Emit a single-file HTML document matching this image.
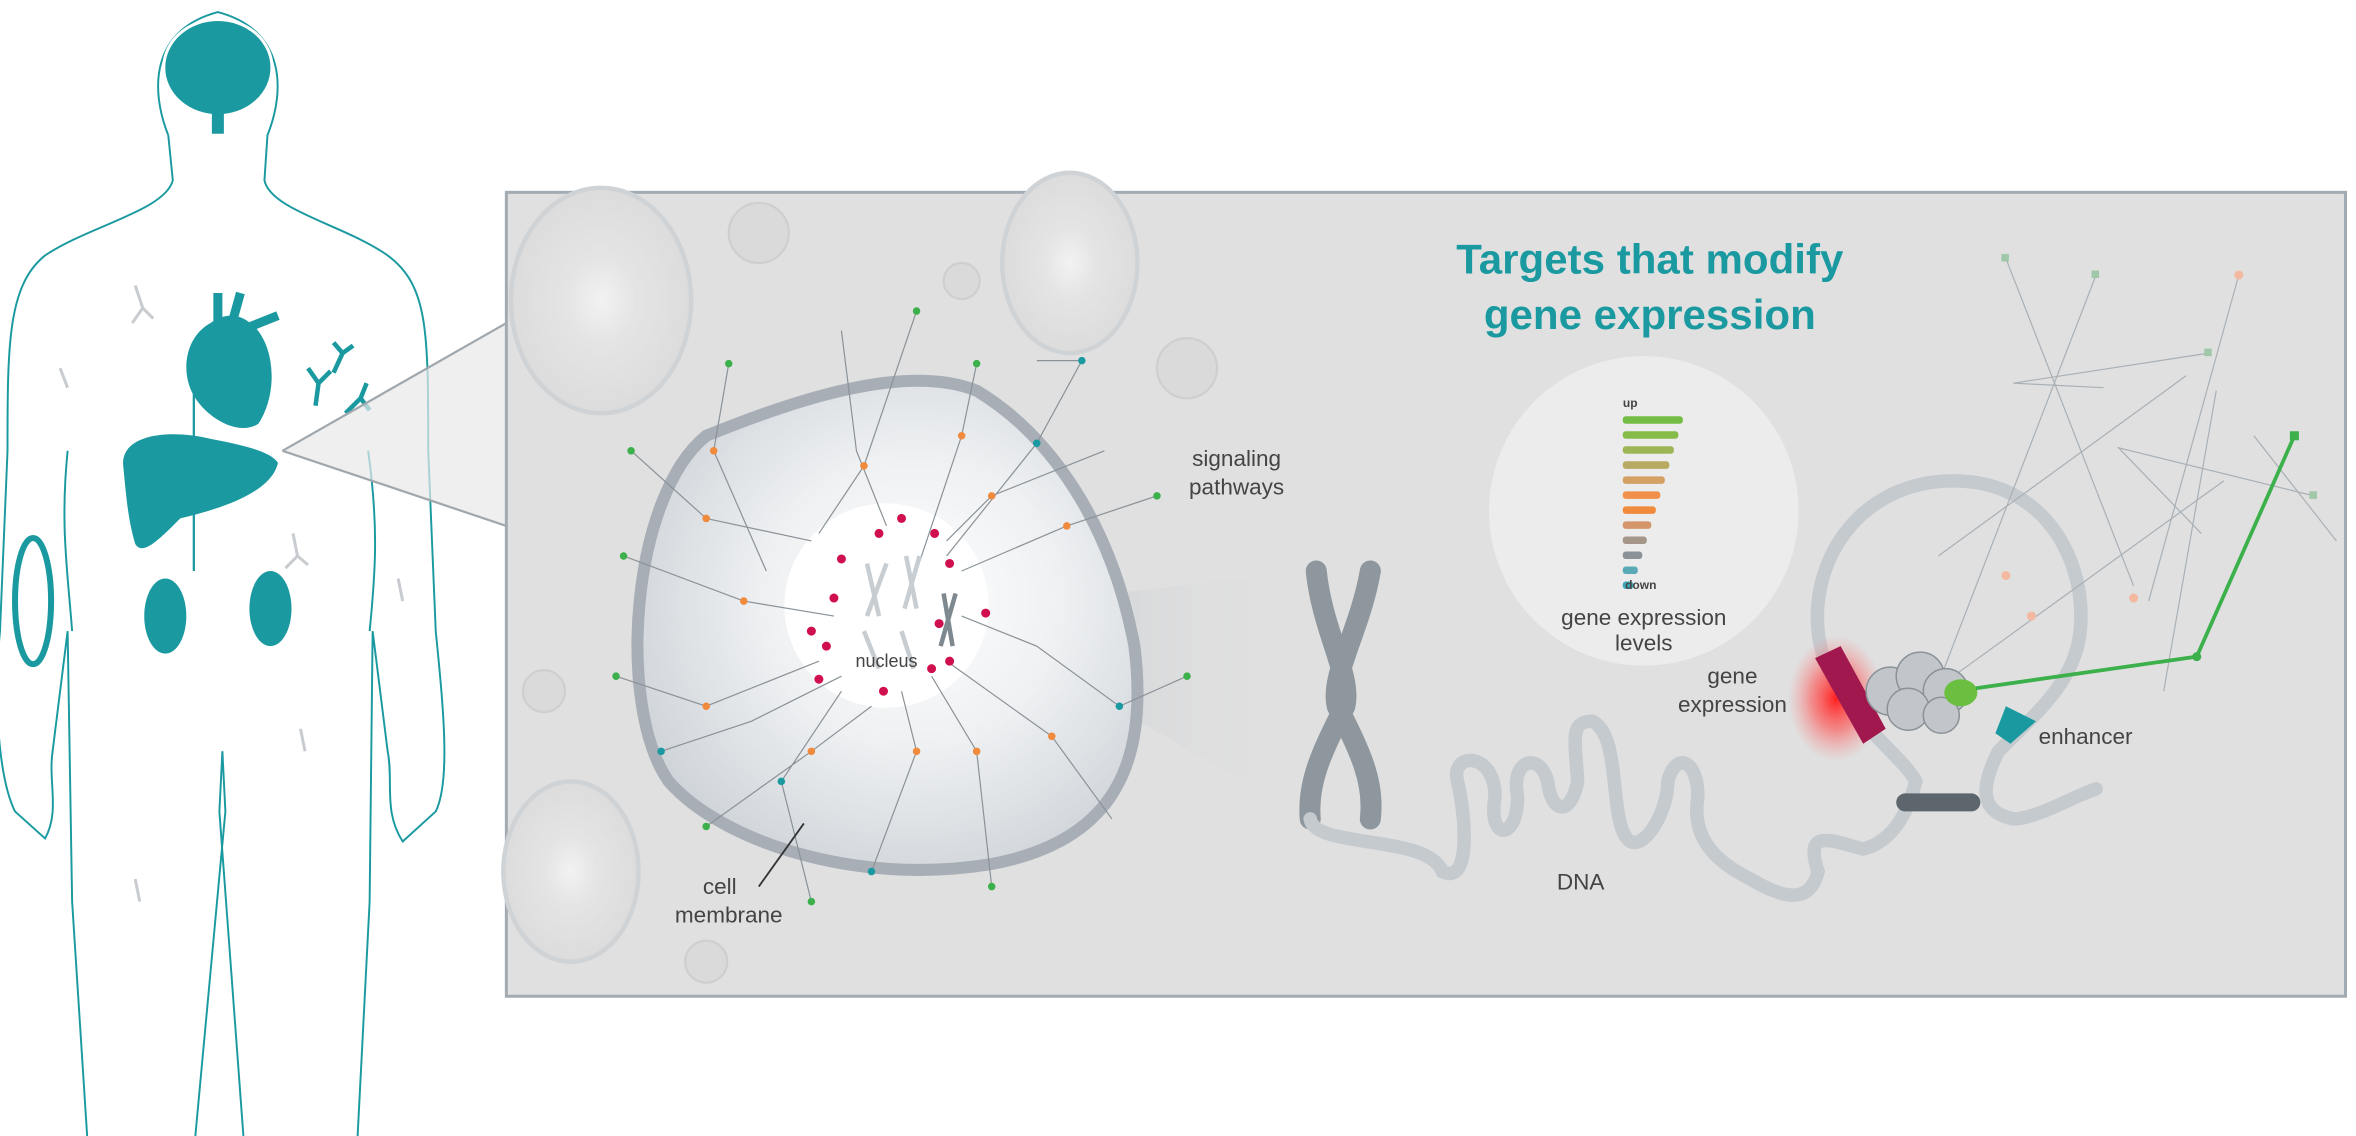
<!DOCTYPE html>
<html><head><meta charset="utf-8"><style>
html,body{margin:0;padding:0;background:#fff;}
svg{display:block;}
text{font-family:"Liberation Sans",sans-serif;}
</style></head><body>
<svg width="2356" height="1136" viewBox="0 0 1568 756" preserveAspectRatio="none" xmlns="http://www.w3.org/2000/svg">
<defs>
<radialGradient id="cellg" cx="0.55" cy="0.45" r="0.6"><stop offset="0" stop-color="#ffffff"/><stop offset="0.5" stop-color="#eef0f2"/><stop offset="1" stop-color="#cfd4d9"/></radialGradient>
<radialGradient id="red" cx="0.5" cy="0.5" r="0.5"><stop offset="0" stop-color="#ff2020"/><stop offset="0.5" stop-color="#ff5050" stop-opacity="0.6"/><stop offset="1" stop-color="#ff8080" stop-opacity="0"/></radialGradient>
<radialGradient id="bgc" cx="0.5" cy="0.5" r="0.5"><stop offset="0" stop-color="#f2f2f2"/><stop offset="0.4" stop-color="#e4e4e4"/><stop offset="1" stop-color="#dcdcdc"/></radialGradient>
<linearGradient id="cone" x1="0" x2="1"><stop offset="0" stop-color="#c8ccd0"/><stop offset="1" stop-color="#e0e0e0" stop-opacity="0"/></linearGradient>
</defs>
<!-- human outline -->
<g fill="none" stroke="#1a9aa0" stroke-width="1.3">
<path d="M112 90 C100 60 100 20 145 8 C190 20 190 60 178 90 L176 120 C180 140 230 150 258 170 C285 190 285 220 285 300 L290 420 C295 470 300 520 290 540 L268 560 C255 540 262 520 258 500 L248 420 L246 600 L238 756"/>
<path d="M112 90 L115 120 C110 140 60 150 30 170 C5 190 5 230 5 300 L0 420 C-5 470 0 520 10 540 L30 558 C40 540 32 520 35 500 L45 420 L48 600 L58 756"/>
<path d="M148 500 L150 540 L130 756"/>
<path d="M148 500 L146 540 L162 756" />
<path d="M48 420 C45 380 40 350 45 300"/>
<path d="M246 420 C250 380 252 350 245 300"/>
</g>
<!-- brain -->
<ellipse cx="145" cy="45" rx="36" ry="32" fill="#1a9aa0" stroke="#fff" stroke-width="2"/>
<rect x="141" y="75" width="8" height="14" fill="#1a9aa0"/>
<!-- heart -->
<path d="M140 215 C122 225 120 250 130 265 C140 280 160 290 172 282 C185 262 183 232 170 218 C160 208 150 208 140 215Z" fill="#1a9aa0"/>
<path d="M145 215 L145 195 M155 213 L160 195 M165 218 L185 210" stroke="#1a9aa0" stroke-width="6"/>
<!-- antibodies -->
<g stroke="#1a9aa0" stroke-width="3" fill="none"><path d="M210 270 L212 255 L205 245 M212 255 L220 247 M230 275 L240 265 L244 255 M240 265 L246 273 M222 248 L228 235 M228 235 L222 228 M228 235 L235 230"/></g>
<g stroke="#c8ccd0" stroke-width="2" fill="none"><path d="M90 190 L95 205 L88 215 M95 205 L102 212 M195 355 L198 370 M198 370 L190 378 M198 370 L205 376 M265 385 L268 400 M200 485 L203 500 M90 585 L93 600 M40 245 L45 258"/></g>
<!-- liver -->
<path d="M82 310 C80 290 110 285 140 292 C160 296 180 300 185 308 C180 330 140 340 120 345 C105 360 95 370 90 362 C85 345 84 330 82 310Z" fill="#1a9aa0"/>
<line x1="129" y1="262" x2="129" y2="380" stroke="#1a9aa0" stroke-width="1.5"/>
<!-- kidneys -->
<ellipse cx="110" cy="410" rx="14" ry="25" fill="#1a9aa0"/>
<ellipse cx="180" cy="405" rx="14" ry="25" fill="#1a9aa0"/>
<!-- muscle -->
<ellipse cx="22" cy="400" rx="12" ry="42" fill="none" stroke="#1a9aa0" stroke-width="4"/>
<!-- callout lines -->
<path d="M188 300 L337 215 L337 350 Z" fill="#e8e8e8" opacity="0.7"/>
<line x1="188" y1="300" x2="337" y2="215" stroke="#a0a8ae" stroke-width="1.5"/>
<line x1="188" y1="300" x2="337" y2="350" stroke="#a0a8ae" stroke-width="1.5"/>
<!-- panel -->
<rect x="337" y="128" width="1224" height="535" fill="#e0e0e0" stroke="#a3abb2" stroke-width="2"/>
<!-- faint bg cells -->
<g fill="url(#bgc)" stroke="#d0d3d6" stroke-width="3">
<ellipse cx="400" cy="200" rx="60" ry="75"/><ellipse cx="712" cy="175" rx="45" ry="60"/><ellipse cx="380" cy="580" rx="45" ry="60"/>
</g>
<g fill="#dadada" stroke="#cfcfd1" stroke-width="1.5">
<circle cx="505" cy="155" r="20"/><circle cx="790" cy="245" r="20"/><circle cx="640" cy="187" r="12"/><circle cx="362" cy="460" r="14"/><circle cx="470" cy="640" r="14"/>
</g>
<!-- cone to chromosome -->
<path d="M655 405 L870 380 L870 545 L655 420Z" fill="url(#cone)"/>
<!-- cell -->
<path d="M470 290 C520 270 600 240 650 260 C700 290 740 350 755 430 C765 510 740 560 660 575 C570 590 480 560 445 520 C410 470 420 330 470 290Z" fill="url(#cellg)" stroke="#a7aeb6" stroke-width="8"/>
<circle cx="590" cy="403" r="68" fill="#fff"/>
<!-- signaling network -->
<g stroke="#8a9298" stroke-width="0.8" fill="none">
<path d="M610 207 L575 310 L545 355 M650 242 L640 290 L610 380 M690 240 L720 240 L690 295 L630 370 M485 242 L475 300 L510 380 M420 300 L470 345 L540 360 M415 370 L495 400 L555 410 M410 450 L470 470 L545 440 M440 500 L500 480 L560 450 M470 550 L540 500 L580 470 M580 580 L610 500 L600 460 M660 590 L650 500 L620 450 M740 545 L700 490 L630 440 M790 450 L745 470 L690 430 L640 410 M770 330 L710 350 L640 380 M735 300 L660 330 L630 360 M560 220 L570 300 L590 350 M540 600 L520 520 L560 460"/>
</g>
<g fill="#3cb04a"><circle cx="610" cy="207" r="2.5"/><circle cx="650" cy="242" r="2.5"/><circle cx="420" cy="300" r="2.5"/><circle cx="415" cy="370" r="2.5"/><circle cx="410" cy="450" r="2.5"/><circle cx="470" cy="550" r="2.5"/><circle cx="660" cy="590" r="2.5"/><circle cx="790" cy="450" r="2.5"/><circle cx="770" cy="330" r="2.5"/><circle cx="540" cy="600" r="2.5"/><circle cx="485" cy="242" r="2.5"/></g>
<g fill="#f08a3c"><circle cx="575" cy="310" r="2.5"/><circle cx="640" cy="290" r="2.5"/><circle cx="475" cy="300" r="2.5"/><circle cx="470" cy="345" r="2.5"/><circle cx="495" cy="400" r="2.5"/><circle cx="470" cy="470" r="2.5"/><circle cx="540" cy="500" r="2.5"/><circle cx="610" cy="500" r="2.5"/><circle cx="650" cy="500" r="2.5"/><circle cx="700" cy="490" r="2.5"/><circle cx="710" cy="350" r="2.5"/><circle cx="660" cy="330" r="2.5"/></g>
<g fill="#1a9aa0"><circle cx="690" cy="295" r="2.5"/><circle cx="720" cy="240" r="2.5"/><circle cx="580" cy="580" r="2.5"/><circle cx="745" cy="470" r="2.5"/><circle cx="440" cy="500" r="2.5"/><circle cx="520" cy="520" r="2.5"/></g>
<g fill="#d0104e"><circle cx="585" cy="355" r="3"/><circle cx="600" cy="345" r="3"/><circle cx="622" cy="355" r="3"/><circle cx="632" cy="375" r="3"/><circle cx="560" cy="372" r="3"/><circle cx="555" cy="398" r="3"/><circle cx="540" cy="420" r="3"/><circle cx="550" cy="430" r="3"/><circle cx="545" cy="452" r="3"/><circle cx="588" cy="460" r="3"/><circle cx="620" cy="445" r="3"/><circle cx="632" cy="440" r="3"/><circle cx="656" cy="408" r="3"/><circle cx="625" cy="415" r="3"/></g>
<g stroke="#c8cdd2" stroke-width="3" fill="none"><path d="M577 375 L585 410 M590 375 L577 410 M603 370 L610 405 M612 370 L602 405 M575 420 L585 445 M600 420 L608 445"/></g>
<path d="M628 395 L634 430 M636 395 L626 430" stroke="#7e888f" stroke-width="3"/>
<text x="590" y="444" font-size="12" fill="#444" text-anchor="middle">nucleus</text>
<line x1="505" y1="590" x2="535" y2="548" stroke="#333" stroke-width="1.2"/>
<text x="479" y="595" font-size="15" fill="#444" text-anchor="middle">cell</text>
<text x="485" y="614" font-size="15" fill="#444" text-anchor="middle">membrane</text>
<text x="823" y="310" font-size="15" fill="#444" text-anchor="middle">signaling</text>
<text x="823" y="329" font-size="15" fill="#444" text-anchor="middle">pathways</text>
<!-- chromosome -->
<path d="M876 380 C880 420 900 450 895 470 C880 500 870 520 872 545 M912 380 C905 420 885 450 890 470 C905 500 915 520 912 545" stroke="#8e979e" stroke-width="14" stroke-linecap="round" fill="none"/>
<!-- DNA -->
<path d="M872 545 C875 565 950 555 960 580 C980 590 975 540 970 520 C965 500 995 500 995 530 C990 560 1010 560 1010 530 C1005 505 1025 500 1030 520 C1032 540 1045 545 1050 520 C1048 490 1045 480 1060 480 C1080 490 1070 550 1085 560 C1095 565 1110 540 1110 520 C1115 500 1130 505 1130 530 C1125 560 1145 575 1165 585 C1190 600 1205 600 1210 580 C1200 550 1220 560 1240 565 C1260 560 1270 540 1275 520 C1265 500 1215 470 1210 420 C1205 370 1240 320 1300 320 C1360 320 1385 370 1385 410 C1385 450 1360 470 1330 500 C1320 520 1315 540 1340 545 C1355 545 1380 530 1395 525" stroke="#c5cacf" stroke-width="9" fill="none" stroke-linecap="round"/>
<text x="1052" y="592" font-size="15" fill="#444" text-anchor="middle">DNA</text>
<!-- gene expression circle -->
<circle cx="1094" cy="340" r="103" fill="#ececec"/>
<text x="1085" y="271" font-size="8" font-weight="bold" fill="#444" text-anchor="middle">up</text>
<g>
<rect x="1080" y="277" width="40" height="5" rx="2" fill="#74bd44"/>
<rect x="1080" y="287" width="37" height="5" rx="2" fill="#86bb48"/>
<rect x="1080" y="297" width="34" height="5" rx="2" fill="#9eb556"/>
<rect x="1080" y="307" width="31" height="5" rx="2" fill="#b8aa62"/>
<rect x="1080" y="317" width="28" height="5" rx="2" fill="#d4a064"/>
<rect x="1080" y="327" width="25" height="5" rx="2" fill="#f0904a"/>
<rect x="1080" y="337" width="22" height="5" rx="2" fill="#f08a3c"/>
<rect x="1080" y="347" width="19" height="5" rx="2" fill="#d4956a"/>
<rect x="1080" y="357" width="16" height="5" rx="2" fill="#a5968a"/>
<rect x="1080" y="367" width="13" height="5" rx="2" fill="#8a9298"/>
<rect x="1080" y="377" width="10" height="5" rx="2" fill="#5aaab5"/>
<rect x="1080" y="387" width="7" height="5" rx="2" fill="#3aaabb"/>
</g>
<text x="1092" y="392" font-size="8" font-weight="bold" fill="#444" text-anchor="middle">down</text>
<text x="1094" y="416" font-size="15" fill="#444" text-anchor="middle">gene expression</text>
<text x="1094" y="433" font-size="15" fill="#444" text-anchor="middle">levels</text>
<!-- title -->
<text x="1098" y="182" font-size="28" font-weight="bold" fill="#1a9aa0" text-anchor="middle">Targets that modify</text>
<text x="1098" y="219" font-size="28" font-weight="bold" fill="#1a9aa0" text-anchor="middle">gene expression</text>
<!-- right network -->
<g stroke="#a9b0b6" stroke-width="0.8" fill="none">
<path d="M1335 172 L1420 390 M1395 183 L1290 455 M1490 183 L1430 400 M1470 235 L1340 255 L1400 258 M1455 250 L1290 370 M1475 260 L1440 460 M1540 330 L1410 298 L1465 355 M1480 320 L1300 450 M1555 360 L1500 290"/>
</g>
<g fill="#9fc7a8"><rect x="1332" y="169" width="5" height="5"/><rect x="1392" y="180" width="5" height="5"/><rect x="1467" y="232" width="5" height="5"/><rect x="1537" y="327" width="5" height="5"/></g>
<g fill="#f3b9a0"><circle cx="1490" cy="183" r="3"/><circle cx="1335" cy="383" r="3"/><circle cx="1352" cy="410" r="3"/><circle cx="1420" cy="398" r="3"/></g>
<!-- red glow + gene -->
<ellipse cx="1222" cy="465" rx="32" ry="42" fill="url(#red)"/>
<path d="M1208 438 L1225 430 L1255 485 L1240 495 Z" fill="#a0184e"/>
<!-- protein complex -->
<g fill="#c2c6ca" stroke="#8a9298" stroke-width="1"><circle cx="1258" cy="460" r="16"/><circle cx="1278" cy="450" r="16"/><circle cx="1295" cy="460" r="15"/><circle cx="1270" cy="472" r="14"/><circle cx="1292" cy="476" r="12"/></g>
<ellipse cx="1305" cy="461" rx="11" ry="9" fill="#6abf40"/>
<path d="M1335 470 L1355 480 L1338 495 L1328 488Z" fill="#1a9aa0"/>
<line x1="1315" y1="458" x2="1462" y2="437" stroke="#3cb04a" stroke-width="2.5"/>
<line x1="1462" y1="437" x2="1527" y2="290" stroke="#3cb04a" stroke-width="2.5"/>
<rect x="1524" y="287" width="6" height="6" fill="#3cb04a"/>
<circle cx="1462" cy="437" r="3" fill="#3cb04a"/>
<rect x="1262" y="528" width="56" height="12" rx="6" fill="#5d666c"/>
<text x="1153" y="455" font-size="15" fill="#444" text-anchor="middle">gene</text>
<text x="1153" y="474" font-size="15" fill="#444" text-anchor="middle">expression</text>
<text x="1388" y="495" font-size="15" fill="#444" text-anchor="middle">enhancer</text>
</svg>
</body></html>
